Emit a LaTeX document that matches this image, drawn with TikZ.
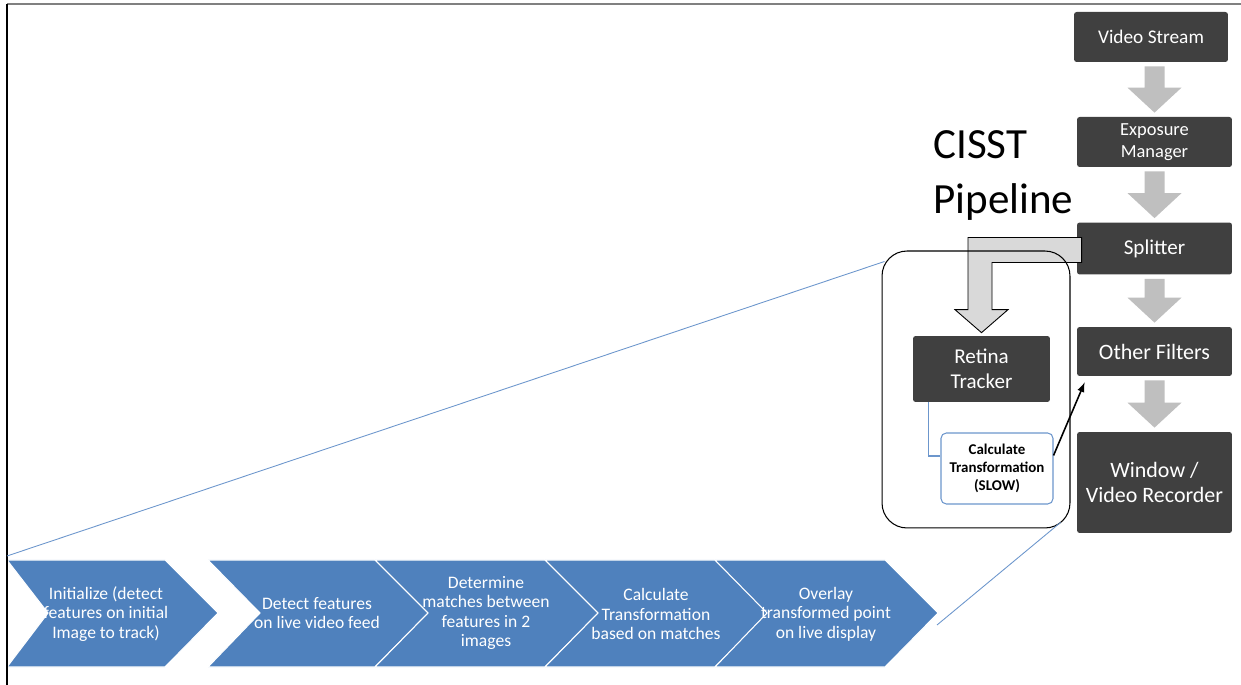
\documentclass[tikz,border=0pt]{standalone}
\usepackage{fontspec}
\setmainfont{Carlito}
\usepackage{tikz}
\usetikzlibrary{arrows,calc,positioning}
\definecolor{kastenGrau}{RGB}{64,64,64}
\definecolor{pfeilGrau}{RGB}{191,191,191}
\definecolor{knickGrau}{RGB}{217,217,217}
\definecolor{schrittBlau}{RGB}{79,129,189}
\definecolor{linienBlau}{RGB}{108,150,204}

\begin{document}
\begin{tikzpicture}[x=0.02cm,y=-0.02cm,
  kasten/.style={fill=kastenGrau,text=white,rounded corners=1.5pt,align=center,minimum width=3.1cm,inner sep=0pt},
  schritt/.style={text=white,align=center,inner sep=0pt,font=\fontsize{10}{11}\selectfont},
  chevron/.style={fill=schrittBlau,draw=white,line width=0.6pt},
  zoomLinie/.style={draw=linienBlau,line width=0.5pt},
  knick/.style={fill=knickGrau,draw=black,line width=0.5pt}]
%Koordinaten in Pixel des Originals (y nach unten)
\useasboundingbox (0,0) rectangle (1241,685);
%Schritte unten als Pfeilkette
\foreach \xl/\xn/\xr in {7/48/165,208/260/375,375/428/545,545/598/715,715/767/885}{
\draw[chevron] (\xl,560) -- (\xr,560) -- (\xr+53,613) -- (\xr,667) -- (\xl,667) -- (\xn,613) -- cycle;
}
\node[schritt] (c1) at (106,614) {Initialize (detect\\features on initial\\Image to track)};
\node[schritt] (c2) at (317,613) {Detect features\\on live video feed};
\node[schritt] (c3) at (486,613) {Determine\\matches between\\features in 2\\images};
\node[schritt] (c4) at (656,614) {Calculate\\Transformation\\based on matches};
\node[schritt] (c5) at (826,614) {Overlay\\transformed point\\on live display};
%Rahmen der Seite
\draw[gray,line width=0.6pt] (7,4) -- (1241,4);
\draw[black,line width=0.8pt] (7,4) -- (7,685);
%Pipeline rechts
\node[kasten,minimum width=3.08cm,minimum height=1cm,font=\fontsize{11}{13}\selectfont] (vs) at (1151,37) {Video Stream};
\node[kasten,minimum height=1cm,font=\fontsize{10.5}{12.3}\selectfont] (em) at (1154.5,142) {Exposure\\Manager};
\node[kasten,minimum height=1.04cm,font=\fontsize{12}{14}\selectfont] (sp) at (1154.5,248.5) {Splitter};
\node[kasten,minimum height=0.98cm,font=\fontsize{12.5}{14}\selectfont] (of) at (1154.5,351.5) {Other Filters};
\node[kasten,minimum height=2.02cm,font=\fontsize{12.5}{14.7}\selectfont] (wr) at (1154.5,482.5) {Window /\\Video Recorder};
\foreach \a/\b in {vs/em,em/sp,sp/of,of/wr}{
\path ($(\b.north)+(0,-4)$) coordinate (u) ($(u |- \a.south)+(0,4)$) coordinate (o);
\fill[pfeilGrau] ($(o)+(-10,0)$) -- ($(o)+(10,0)$) -- ($(u)+(10,-25)$) -- ($(u)+(27,-25)$) -- (u) -- ($(u)+(-27,-25)$) -- ($(u)+(-10,-25)$) -- cycle;
}
\node[kasten,minimum width=2.74cm,minimum height=1.32cm,font=\fontsize{12}{14}\selectfont] (rt) at (981.5,369) {Retina\\Tracker};
\node[fill=white,draw=linienBlau,line width=0.6pt,rounded corners=3pt,minimum width=2.24cm,minimum height=1.42cm,inner sep=0pt,align=center,font=\fontsize{8.5}{10.4}\selectfont\bfseries] (ct) at (997,468.5) {Calculate\\Transformation\\(SLOW)};
\draw[knick] ($(sp.west)+(5,-11)$) -| ($(rt.north)+(-13.5,-26)$) -- ++(-13,0) -- ($(rt.north)+(0,-3)$) -- ++(26.5,-23) -- ++(-16,0) |- ($(sp.west)+(5,14)$) -- cycle;
\node[draw=black,line width=0.6pt,rounded corners=0.5cm,minimum width=3.76cm,minimum height=5.54cm] (pipe) at (976,389.5) {};
\draw[linienBlau,line width=0.6pt] ($(rt.south west)+(16,0)$) |- ($(ct.west)+(0,-12.5)$);
\draw[-latex,black,line width=0.9pt] ($(ct.north east)+(0,23)$) -- ($(of.south west)+(8,6)$);
\node[anchor=north west,inner sep=0pt,align=left,font=\fontsize{24.5}{31.5}\selectfont] (titel) at (933,130) {CISST\\Pipeline};
%Lupenlinien
\coordinate (z1) at (7,556);
\coordinate (z2) at (937,625);
\draw[zoomLinie] (z1) -- ($(pipe.north west)+(3,11)$);
\draw[zoomLinie] (z2) -- ($(pipe.south east)+(-10,-6)$);
\end{tikzpicture}
\end{document}
